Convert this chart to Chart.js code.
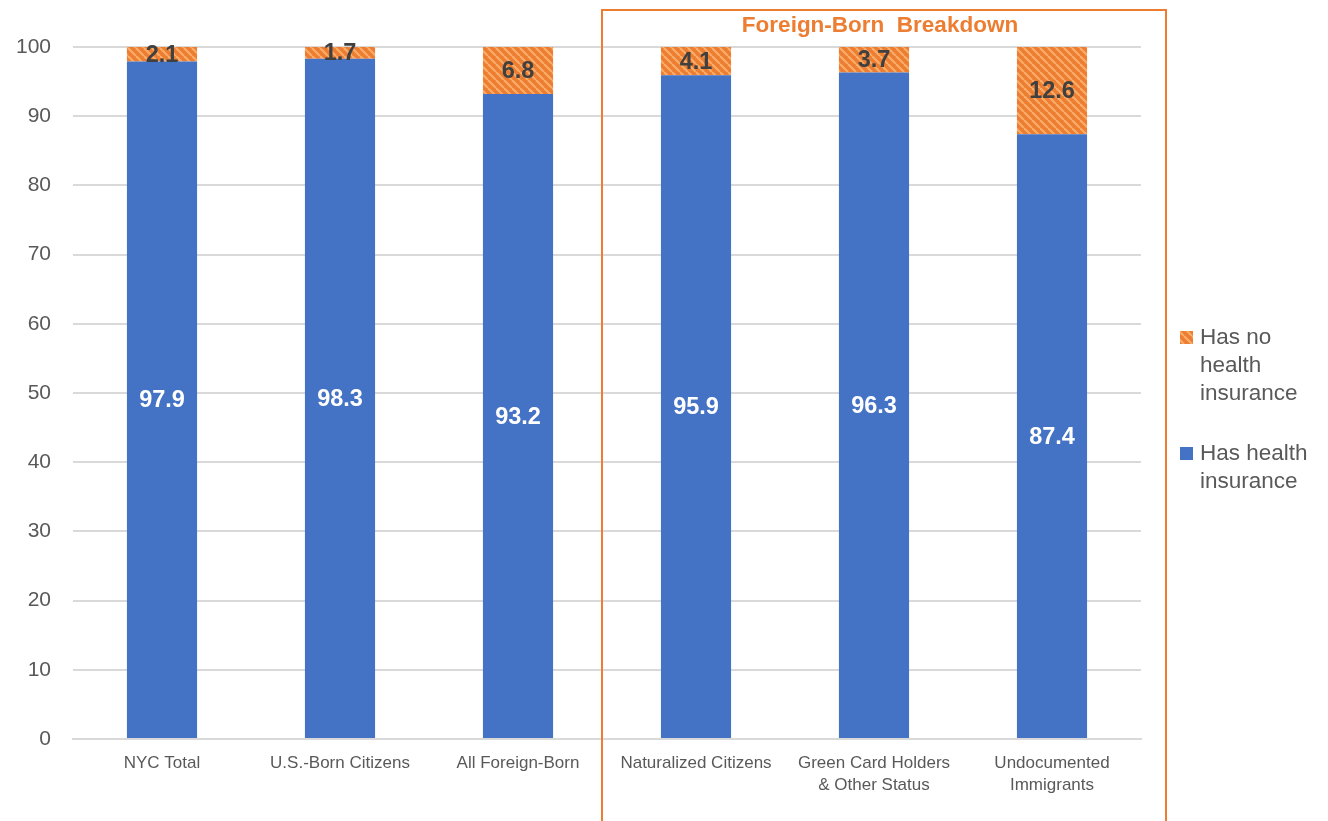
<!DOCTYPE html>
<html>
<head>
<meta charset="utf-8">
<script src="https://cdn.jsdelivr.net/npm/chart.js@4/dist/chart.umd.min.js"></script>
<style>
  html, body { margin: 0; padding: 0; background: #fff; }
  #wrap { position: relative; width: 1328px; height: 821px; }
</style>
</head>
<body>
<div id="wrap"><canvas id="chart"></canvas></div>
<script>
const categories = [
  'NYC Total',
  'U.S.-Born Citizens',
  'All Foreign-Born',
  'Naturalized Citizens',
  ['Green Card Holders', '& Other Status'],
  ['Undocumented', 'Immigrants']
];
const hasInsurance = [97.9, 98.3, 93.2, 95.9, 96.3, 87.4];
const noInsurance = [2.1, 1.7, 6.8, 4.1, 3.7, 12.6];
const yTicks = [0, 10, 20, 30, 40, 50, 60, 70, 80, 90, 100];
const legendLines = [['Has no', 'health', 'insurance'], ['Has health', 'insurance']];
const boxTitle = 'Foreign-Born  Breakdown';

const FONT = '"Liberation Sans", Arial, sans-serif';
const BLUE = '#4472C4';
const ORANGE = '#ED7D31';

// diagonal hatch like the Excel pattern fill
function makeHatch() {
  const c = document.createElement('canvas');
  c.width = 8; c.height = 8;
  const g = c.getContext('2d');
  g.fillStyle = ORANGE;
  g.fillRect(0, 0, 8, 8);
  g.strokeStyle = '#F9AD68';
  g.lineWidth = 2.2;
  for (let k = -8; k <= 8; k += 8) {
    g.beginPath();
    g.moveTo(k, 0);
    g.lineTo(k + 8, 8);
    g.stroke();
  }
  return g.createPattern(c, 'repeat');
}
const hatch = makeHatch();

const labelsPlugin = {
  id: 'barLabels',
  afterDatasetsDraw(chart) {
    const ctx = chart.ctx;
    ctx.save();
    ctx.font = 'bold 23.5px ' + FONT;
    ctx.textAlign = 'center';
    ctx.textBaseline = 'middle';
    chart.data.datasets.forEach((ds, di) => {
      chart.getDatasetMeta(di).data.forEach((bar, i) => {
        const mid = (bar.y + bar.base) / 2;
        ctx.fillStyle = di === 0 ? '#ffffff' : '#404040';
        ctx.fillText(ds.data[i].toFixed(1), bar.x, mid + 1);
      });
    });
    ctx.restore();
  }
};

const boxPlugin = {
  id: 'foreignBox',
  afterDraw(chart) {
    const ctx = chart.ctx;
    const x = chart.scales.x;
    const left = (x.getPixelForValue(2) + x.getPixelForValue(3)) / 2 - 5;
    const right = chart.chartArea.right + 25;
    ctx.save();
    ctx.strokeStyle = ORANGE;
    ctx.lineWidth = 2;
    ctx.strokeRect(left, 10, right - left, chart.height + 10);
    ctx.fillStyle = ORANGE;
    ctx.font = 'bold 22.5px ' + FONT;
    ctx.textAlign = 'center';
    ctx.textBaseline = 'middle';
    ctx.fillText(boxTitle, (left + right) / 2 - 4, 26);

    // legend to the right
    const lx = right + 14;
    const colors = [hatch, BLUE];
    const tops = [337, 453];
    ctx.font = '22.5px ' + FONT;
    ctx.textAlign = 'left';
    legendLines.forEach((lines, k) => {
      ctx.fillStyle = colors[k];
      ctx.fillRect(lx, tops[k] - 6, 13, 13);
      ctx.fillStyle = '#595959';
      lines.forEach((t, j) => ctx.fillText(t, lx + 20, tops[k] + 1 + j * 28));
    });
    ctx.restore();
  }
};

new Chart(document.getElementById('chart'), {
  type: 'bar',
  data: {
    labels: categories,
    datasets: [
      {
        label: 'Has health insurance',
        data: hasInsurance,
        backgroundColor: BLUE,
        categoryPercentage: 1,
        barPercentage: 0.394
      },
      {
        label: 'Has no health insurance',
        data: noInsurance,
        backgroundColor: hatch,
        categoryPercentage: 1,
        barPercentage: 0.394
      }
    ]
  },
  options: {
    responsive: true,
    maintainAspectRatio: false,
    animation: false,
    layout: { padding: { top: 47, right: 187, bottom: 0, left: 0 } },
    plugins: {
      legend: { display: false },
      tooltip: { enabled: false }
    },
    scales: {
      x: {
        stacked: true,
        grid: { display: false },
        border: { color: '#d9d9d9', width: 2 },
        afterFit(axis) { axis.height = 82; },
        ticks: {
          color: '#595959',
          font: { family: FONT, size: 17, lineHeight: 1.3 },
          maxRotation: 0,
          autoSkip: false,
          padding: 5
        }
      },
      y: {
        stacked: true,
        min: 0,
        max: 100,
        afterBuildTicks(axis) { axis.ticks = yTicks.map(v => ({ value: v })); },
        afterFit(axis) { axis.width = 73; },
        grid: { color: '#d9d9d9', lineWidth: 2, drawTicks: false },
        border: { display: false },
        ticks: {
          color: '#595959',
          font: { family: FONT, size: 21 },
          padding: 22
        }
      }
    }
  },
  plugins: [labelsPlugin, boxPlugin]
});
</script>
</body>
</html>
